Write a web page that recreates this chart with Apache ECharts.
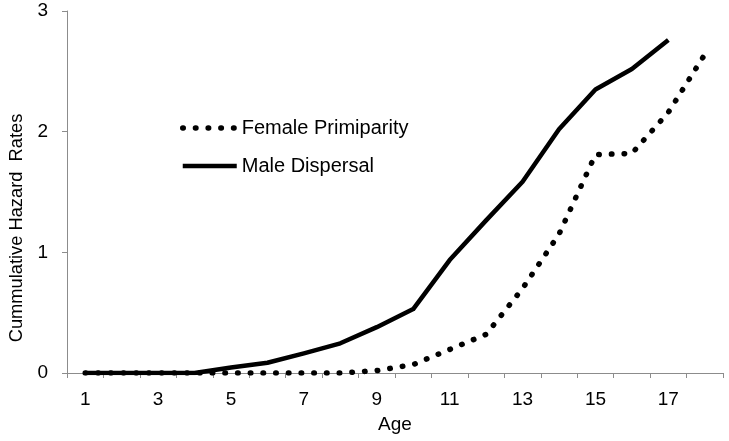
<!DOCTYPE html>
<html>
<head>
<meta charset="utf-8">
<script src="https://cdn.jsdelivr.net/npm/echarts@6/dist/echarts.min.js"></script>
<style>
html,body{margin:0;padding:0;background:#fff;}
#chart{width:729px;height:441px;}
</style>
</head>
<body>
<div id="chart"></div>
<script>
const ages = ['1','2','3','4','5','6','7','8','9','10','11','12','13','14','15','16','17','18'];
const femalePrimiparity = [0,0,0,0,0,0,0,0,0.02,0.07,0.195,0.32,0.70,1.15,1.81,1.82,2.16,2.64];
const maleDispersal = [0,0,0,0,0.045,0.085,0.163,0.246,0.38,0.53,0.936,1.265,1.585,2.02,2.35,2.52,2.76,null];
const yTicks = {min:0, max:3, interval:1};

const FONT = '"Liberation Sans", Arial, sans-serif';
const axisGray = '#8c8c8c';

const chart = echarts.init(document.getElementById('chart'), null, {renderer:'canvas'});
chart.setOption({
  animation:false,
  backgroundColor:'#ffffff',
  textStyle:{fontFamily:FONT, color:'#000'},
  grid:{left:61, right:6, top:11, bottom:68, containLabel:false},
  legend:{
    orient:'vertical',
    left:180, top:118, padding:0,
    itemWidth:54, itemHeight:14, itemGap:18,
    itemStyle:{opacity:0},
    textStyle:{fontFamily:FONT, fontSize:20, color:'#000'},
    data:[
      {name:'Female Primiparity', lineStyle:{width:5.5, type:[0.5,12.2], cap:'round', color:'#000'}},
      {name:'Male Dispersal', lineStyle:{width:4.5, type:'solid', color:'#000'}}
    ]
  },
  xAxis:{
    type:'category',
    data:ages,
    boundaryGap:true,
    name:'Age',
    nameLocation:'middle',
    nameGap:42,
    nameTextStyle:{fontFamily:FONT, fontSize:19, color:'#000'},
    axisLine:{show:true, lineStyle:{color:axisGray, width:1}},
    axisTick:{show:true, interval:0, length:5, lineStyle:{color:axisGray}},
    axisLabel:{interval:1, margin:17, fontFamily:FONT, fontSize:19, color:'#000'},
    splitLine:{show:false}
  },
  yAxis:{
    type:'value',
    min:yTicks.min, max:yTicks.max, interval:yTicks.interval,
    name:'Cummulative Hazard  Rates',
    nameLocation:'middle',
    nameGap:41,
    nameTextStyle:{fontFamily:FONT, fontSize:18.3, color:'#000', padding:[0,72,0,0]},
    axisLine:{show:true, lineStyle:{color:axisGray, width:1}},
    axisTick:{show:true, length:5, lineStyle:{color:axisGray}},
    axisLabel:{margin:19, fontFamily:FONT, fontSize:19, color:'#000'},
    splitLine:{show:false}
  },
  series:[
    {
      name:'Female Primiparity',
      type:'line',
      data:femalePrimiparity,
      symbol:'none',
      color:'#000',
      lineStyle:{color:'#000', width:5.5, type:[0.5,12.2], cap:'round'},
      z:3
    },
    {
      name:'Male Dispersal',
      type:'line',
      data:maleDispersal,
      symbol:'none',
      color:'#000',
      connectNulls:false,
      lineStyle:{color:'#000', width:4.5, type:'solid', join:'round'},
      z:4
    }
  ]
});
</script>
</body>
</html>
